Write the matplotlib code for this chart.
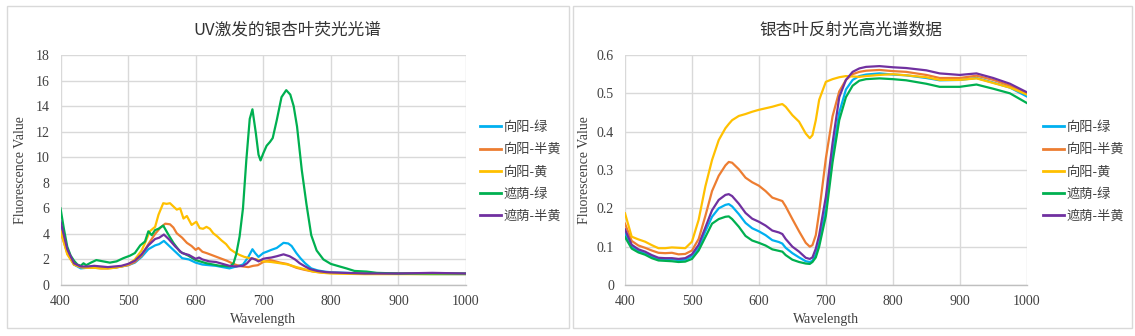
"""Ginkgo leaf spectra: UV fluorescence and hyperspectral reflectance."""

import matplotlib

matplotlib.use("Agg")
import matplotlib.pyplot as plt
from matplotlib.patches import Rectangle
from matplotlib.ticker import FuncFormatter, MultipleLocator

plt.rcParams["font.family"] = ["Liberation Serif", "Noto Sans CJK SC"]

CJK = ["Noto Sans CJK SC", "DejaVu Sans"]
TEXT_COLOR = "#404040"

SERIES_NAMES = ["向阳-绿", "向阳-半黄", "向阳-黄", "遮荫-绿", "遮荫-半黄"]
SERIES_COLORS = ["#00B0F0", "#ED7D31", "#FFC000", "#00B050", "#7030A0"]

# --- UV excited fluorescence -------------------------------------------------
uv_wl_sun_green = [400, 410, 420, 430, 440, 450, 460, 470, 480, 490, 500, 510, 520, 530, 540,
                   546, 553, 560, 570, 580, 590, 600, 610, 620, 630, 640, 650, 660, 670,
                   678, 684, 688, 693, 700, 705, 712, 720, 730, 737, 742, 749, 755, 762, 771,
                   780, 790, 800, 850, 900, 950, 1000]
uv_sun_green = [4.6, 2.6, 1.6, 1.3, 1.35, 1.4, 1.35, 1.35, 1.35, 1.45, 1.55, 1.75, 2.2, 2.8, 3.1,
                3.2, 3.45, 3.1, 2.6, 2.1, 2.0, 1.75, 1.6, 1.55, 1.5, 1.4, 1.3, 1.45, 1.6,
                2.2, 2.8, 2.5, 2.2, 2.5, 2.6, 2.75, 2.9, 3.3, 3.25, 3.05, 2.5, 2.1, 1.7, 1.3,
                1.15, 1.05, 1.0, 0.9, 0.88, 0.85, 0.85]

uv_wl_sun_half = [400, 410, 420, 430, 440, 450, 460, 470, 480, 490, 500, 510, 520, 530, 540,
                  548, 555, 562, 567, 572, 580, 587, 594, 600, 604, 610, 616, 626, 636, 646,
                  656, 661, 670, 678, 685, 692, 700, 710, 718, 725, 735, 749, 760, 774, 790,
                  800, 850, 900, 950, 1000]
uv_sun_half = [4.2, 2.5, 1.6, 1.4, 1.35, 1.35, 1.3, 1.3, 1.35, 1.45, 1.55, 1.8, 2.3, 3.2, 4.0,
               4.5, 4.8, 4.75, 4.5, 4.05, 3.7, 3.3, 3.05, 2.75, 2.9, 2.6, 2.5, 2.3, 2.1, 1.9,
               1.65, 1.55, 1.45, 1.4, 1.5, 1.55, 1.8, 1.95, 1.85, 1.75, 1.65, 1.35, 1.2, 1.05, 0.95,
               0.95, 0.9, 0.9, 0.88, 0.88]

uv_wl_sun_yellow = [400, 410, 420, 430, 440, 450, 460, 470, 480, 490, 500, 510, 520,
                    526, 532, 540, 545, 552, 557, 562, 567, 572, 577, 582, 587, 594,
                    601, 606, 611, 616, 621, 626, 632, 638, 645, 651, 658, 665, 672, 680, 690,
                    700, 712, 725, 737, 749, 760, 774, 789, 800, 850, 900, 950, 1000]
uv_sun_yellow = [4.3, 2.4, 1.6, 1.4, 1.35, 1.35, 1.3, 1.3, 1.35, 1.45, 1.6, 2.0, 2.7,
                 3.4, 4.2, 4.55, 5.5, 6.4, 6.35, 6.4, 6.15, 5.9, 6.0, 5.2, 5.4, 4.7,
                 4.95, 4.45, 4.4, 4.55, 4.4, 4.05, 3.8, 3.5, 3.2, 2.8, 2.55, 2.35, 2.2, 2.1, 2.0,
                 1.85, 1.8, 1.7, 1.6, 1.4, 1.25, 1.05, 0.95, 0.9, 0.85, 0.85, 0.85, 0.85]

uv_wl_shade_green = [400, 405, 410, 415, 420, 425, 430, 434, 438, 445,
                     453, 463, 473, 483, 493, 503, 510, 518, 525, 530,
                     535, 540, 545, 552, 559, 567, 577, 589, 600, 616,
                     636, 651, 656, 660, 665, 670, 675, 680, 684, 689,
                     693, 696, 700, 705, 710, 714, 720, 727, 734, 740,
                     745, 750, 757, 764, 771, 779, 789, 800, 813, 823,
                     835, 853, 868, 900, 1000]
uv_shade_green = [6.0, 4.4, 3.0, 2.3, 1.9, 1.6, 1.5, 1.7, 1.55, 1.75,
                  1.95, 1.85, 1.75, 1.85, 2.1, 2.3, 2.5, 3.1, 3.4, 4.2,
                  3.9, 4.3, 4.4, 4.65, 4.0, 3.3, 2.6, 2.3, 1.95, 1.7,
                  1.5, 1.45, 1.7, 2.4, 3.8, 6.0, 9.8, 13.0, 13.75, 11.9,
                  10.2, 9.75, 10.3, 10.9, 11.2, 11.5, 12.9, 14.7, 15.25, 14.9,
                  14.0, 12.4, 9.0, 6.3, 3.9, 2.7, 2.0, 1.65, 1.45, 1.3,
                  1.1, 1.05, 0.95, 0.9, 0.9]

uv_wl_shade_half = [400, 410, 420, 430, 440, 450, 460, 470, 480, 490, 500, 510, 520, 530, 540,
                    546, 553, 560, 570, 580, 590, 600, 605, 610, 620, 630, 640, 650, 660, 670,
                    676, 683, 688, 693, 700, 705, 712, 720, 730, 739, 747, 754, 762, 769, 780,
                    794, 800, 850, 900, 950, 1000]
uv_shade_half = [5.0, 2.8, 1.7, 1.45, 1.45, 1.5, 1.45, 1.4, 1.45, 1.5, 1.65, 1.9, 2.4, 3.1, 3.6,
                 3.7, 3.95, 3.6, 3.0, 2.5, 2.35, 2.05, 2.15, 2.0, 1.85, 1.8, 1.65, 1.5, 1.45, 1.5,
                 1.7, 2.1, 2.0, 1.85, 2.05, 2.1, 2.15, 2.25, 2.4, 2.25, 2.0, 1.7, 1.45, 1.25, 1.1,
                 1.0, 0.98, 0.9, 0.9, 0.95, 0.9]

# --- Hyperspectral reflectance (shared wavelength grid) -----------------------
refl_wl = [400, 410, 420, 430, 440, 450, 460, 470, 480, 490, 500, 510, 520, 530, 540, 550,
           555, 560, 570, 580, 590, 600, 610, 620, 630, 635, 640, 650, 660, 670, 676, 680,
           685, 690, 700, 710, 720, 730, 740, 750, 760, 780, 800, 820, 850, 870, 900, 925,
           950, 975, 1000]
refl_sun_green = [0.135, 0.1, 0.089, 0.082, 0.074, 0.068, 0.067, 0.067, 0.065, 0.066, 0.075,
                  0.097, 0.14, 0.178, 0.2, 0.209, 0.211, 0.205, 0.185, 0.162, 0.148, 0.14, 0.13,
                  0.117, 0.112, 0.108, 0.097, 0.083, 0.072, 0.062, 0.06, 0.063, 0.08, 0.11, 0.2,
                  0.34, 0.45, 0.51, 0.535, 0.545, 0.549, 0.552, 0.549, 0.547, 0.54, 0.534, 0.535,
                  0.54, 0.528, 0.515, 0.492]
refl_sun_half = [0.16, 0.115, 0.103, 0.097, 0.09, 0.084, 0.083, 0.084, 0.08, 0.081, 0.09,
                 0.12, 0.18, 0.245, 0.285, 0.312, 0.321, 0.319, 0.302, 0.28, 0.268, 0.259, 0.245,
                 0.228, 0.222, 0.219, 0.205, 0.172, 0.14, 0.11, 0.1, 0.104, 0.13, 0.19, 0.33,
                 0.44, 0.505, 0.535, 0.55, 0.556, 0.559, 0.561, 0.558, 0.556, 0.548, 0.54, 0.54,
                 0.546, 0.535, 0.52, 0.5]
refl_sun_yellow = [0.187, 0.126, 0.119, 0.113, 0.104, 0.096, 0.096, 0.098, 0.097, 0.096, 0.113,
                   0.17, 0.257, 0.326, 0.378, 0.409, 0.42, 0.43, 0.441, 0.446, 0.452, 0.457, 0.461,
                   0.465, 0.47, 0.472, 0.465, 0.443, 0.426, 0.395, 0.383, 0.391, 0.43, 0.483, 0.53,
                   0.537, 0.542, 0.545, 0.544, 0.543, 0.545, 0.548, 0.55, 0.547, 0.542, 0.535,
                   0.535, 0.539, 0.527, 0.515, 0.497]
refl_shade_green = [0.125, 0.095, 0.085, 0.079, 0.07, 0.064, 0.063, 0.062, 0.06, 0.061, 0.068,
                    0.09, 0.125, 0.16, 0.172, 0.178, 0.179, 0.172, 0.152, 0.128, 0.116, 0.11,
                    0.103, 0.093, 0.089, 0.087, 0.078, 0.066, 0.06, 0.056, 0.055, 0.06, 0.072,
                    0.1, 0.18, 0.32, 0.43, 0.49, 0.52, 0.533, 0.537, 0.539, 0.537, 0.534, 0.525,
                    0.517, 0.517, 0.523, 0.512, 0.5, 0.475]
refl_shade_half = [0.145, 0.105, 0.093, 0.087, 0.078, 0.071, 0.07, 0.07, 0.068, 0.07, 0.08,
                   0.105, 0.15, 0.195, 0.222, 0.235, 0.237, 0.232, 0.212, 0.188, 0.173, 0.165,
                   0.155, 0.142, 0.137, 0.133, 0.12, 0.1, 0.087, 0.071, 0.068, 0.072, 0.095,
                   0.13, 0.23, 0.37, 0.49, 0.535, 0.556, 0.565, 0.569, 0.571, 0.568, 0.566, 0.56,
                   0.552, 0.548, 0.552, 0.54, 0.525, 0.503]


def style_axes(ax, ymax, ystep, width_px):
    ax.set_xlim(400, 1000)
    ax.set_ylim(0, ymax)
    ax.xaxis.set_major_locator(MultipleLocator(100))
    ax.yaxis.set_major_locator(MultipleLocator(ystep))
    ax.yaxis.set_major_formatter(FuncFormatter(lambda v, _: f"{v:g}"))
    ax.grid(True, color="#d9d9d9", linewidth=1.0)
    ax.set_axisbelow(True)
    for side in ("top", "right", "left"):
        ax.spines[side].set_visible(False)
    ax.spines["bottom"].set_color("#bfbfbf")
    ax.spines["bottom"].set_linewidth(1.0)
    ax.tick_params(length=0, labelsize=10, colors=TEXT_COLOR)
    ax.tick_params(axis="y", pad=8)
    ax.tick_params(axis="x", pad=7)
    ax.set_xlabel("Wavelength", fontsize=10, color=TEXT_COLOR)
    ax.set_ylabel("Fluorescence Value", fontsize=10, color=TEXT_COLOR)
    # label centres sit at fixed pixel offsets from the plot area
    ax.xaxis.set_label_coords(0.5, -34 / 230)
    ax.yaxis.set_label_coords(-40 / width_px, 0.5)
    ax.xaxis.label.set_va("center")
    ax.yaxis.label.set_va("center")


fig = plt.figure(figsize=(11.35, 3.36), dpi=100)

# chart-area frames
for x0, x1 in ((6.5, 568.5), (572.5, 1131.5)):
    fig.patches.append(Rectangle((x0 / 1135, 8 / 336), (x1 - x0) / 1135, 322 / 336,
                                 transform=fig.transFigure, fill=False,
                                 edgecolor="#d9d9d9", linewidth=1.0))

ax1 = fig.add_axes([60.5 / 1135, 51 / 336, 405.5 / 1135, 230 / 336])
ax2 = fig.add_axes([625 / 1135, 51 / 336, 401.7 / 1135, 230 / 336])

uv_series = [
    (uv_wl_sun_green, uv_sun_green),
    (uv_wl_sun_half, uv_sun_half),
    (uv_wl_sun_yellow, uv_sun_yellow),
    (uv_wl_shade_green, uv_shade_green),
    (uv_wl_shade_half, uv_shade_half),
]
for (wl, vals), name, color in zip(uv_series, SERIES_NAMES, SERIES_COLORS):
    ax1.plot(wl, vals, color=color, linewidth=1.6, label=name)

refl_series = [refl_sun_green, refl_sun_half, refl_sun_yellow, refl_shade_green, refl_shade_half]
for vals, name, color in zip(refl_series, SERIES_NAMES, SERIES_COLORS):
    ax2.plot(refl_wl, vals, color=color, linewidth=1.6, label=name)

style_axes(ax1, 18, 2, 405.5)
style_axes(ax2, 0.6, 0.1, 401.7)

fig.text(287 / 1135, 1 - 30 / 336, "UV激发的银杏叶荧光光谱", ha="center", va="center",
         fontsize=12, family=CJK, color="#333333")
fig.text(851 / 1135, 1 - 30 / 336, "银杏叶反射光高光谱数据", ha="center", va="center",
         fontsize=12, family=CJK, color="#333333")

for ax, x_left in ((ax1, 480), (ax2, 1043)):
    leg = ax.legend(loc="upper left", bbox_to_anchor=(x_left / 1135, 1 - 121 / 336),
                    bbox_transform=fig.transFigure, frameon=False,
                    prop={"family": CJK, "size": 9.5}, handlelength=1.6,
                    handletextpad=0.2, labelspacing=0.7, borderpad=0, borderaxespad=0)
    for text in leg.get_texts():
        text.set_color(TEXT_COLOR)
    for line in leg.get_lines():
        line.set_linewidth(2.0)

fig.savefig("out.png", dpi=100)
